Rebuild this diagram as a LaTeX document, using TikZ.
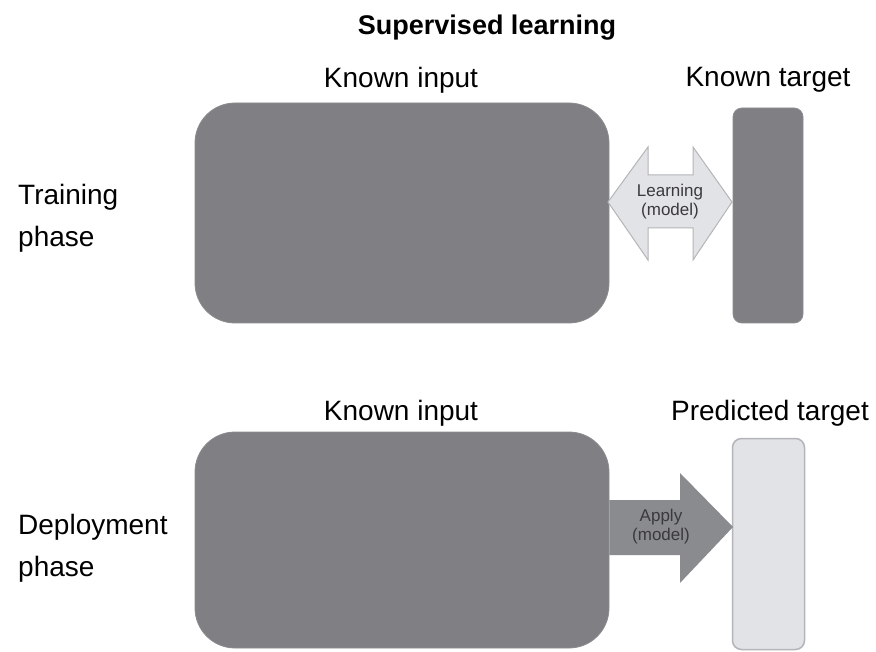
\documentclass[tikz,border=0pt]{standalone}
\usepackage{fontspec}
\setmainfont{Liberation Sans}
\definecolor{boxgray}{HTML}{808084}
\definecolor{boxedge}{HTML}{8C8C90}
\definecolor{lightfill}{HTML}{E2E3E6}
\definecolor{lightedge}{HTML}{B4B5B8}
\definecolor{applyfill}{HTML}{8A8B8F}
\definecolor{smalltext}{HTML}{3A3A3E}
\begin{document}
\begin{tikzpicture}[x=1pt,y=-1pt,
  lbl/.style={font=\fontsize{28}{32}\selectfont, inner sep=0pt},
  sidelbl/.style={font=\fontsize{28}{42}\selectfont, align=left, anchor=west, inner sep=0pt},
  inputbox/.style={fill=boxgray, draw=boxedge, line width=0.8pt, rounded corners=40pt, inner sep=0pt},
  targetbox/.style={fill=boxgray, draw=boxedge, line width=0.8pt, rounded corners=9pt, inner sep=0pt},
  predbox/.style={fill=lightfill, draw=lightedge, line width=1.5pt, rounded corners=9pt, inner sep=0pt},
  smalllbl/.style={font=\fontsize{17}{19}\selectfont, text=smalltext, align=center, inner sep=0pt}]
\useasboundingbox[fill=white] (0,0) rectangle (876,652);

% title
\node[lbl, font=\fontsize{27}{32}\selectfont\bfseries] (title) at (487,28) {Supervised learning};

% training phase
\node[lbl] (inlbl1) at (401,80) {Known input};
\node[lbl] (tglbl1) at (768,80) {Known target};
\node[sidelbl] (train) at (18,218) {Training\\phase};
\node[inputbox, minimum width=414pt, minimum height=220pt] (in1) at (402,213) {};
\node[targetbox, minimum width=70pt, minimum height=215pt] (tg1) at (768,215.5) {};

% double block arrow between input and target
\draw[fill=lightfill, draw=lightedge, line width=1pt, line join=miter]
  (608,202) -- (648,147) -- (648,175) -- (693,175) -- (693,147) -- (732,202)
  -- (693,260) -- (693,228) -- (648,228) -- (648,260) -- cycle;
\node[smalllbl] (learn) at (670,202) {Learning\\(model)};

% deployment phase
\node[lbl] (inlbl2) at (401,413) {Known input};
\node[lbl] (tglbl2) at (770,413) {Predicted target};
\node[sidelbl] (deploy) at (18,548) {Deployment\\phase};
\node[inputbox, minimum width=414pt, minimum height=216pt] (in2) at (402,540) {};
\node[predbox, minimum width=72pt, minimum height=211pt] (tg2) at (768.5,544) {};

% single block arrow towards the prediction
\fill[applyfill]
  (in2.east |- 0,500) -- (680,500) -- (680,473) -- (733,527) -- (680,583)
  -- (680,555) -- (in2.east |- 0,555) -- cycle;
\node[smalllbl] (apply) at (661,527) {Apply\\(model)};
\end{tikzpicture}
\end{document}
